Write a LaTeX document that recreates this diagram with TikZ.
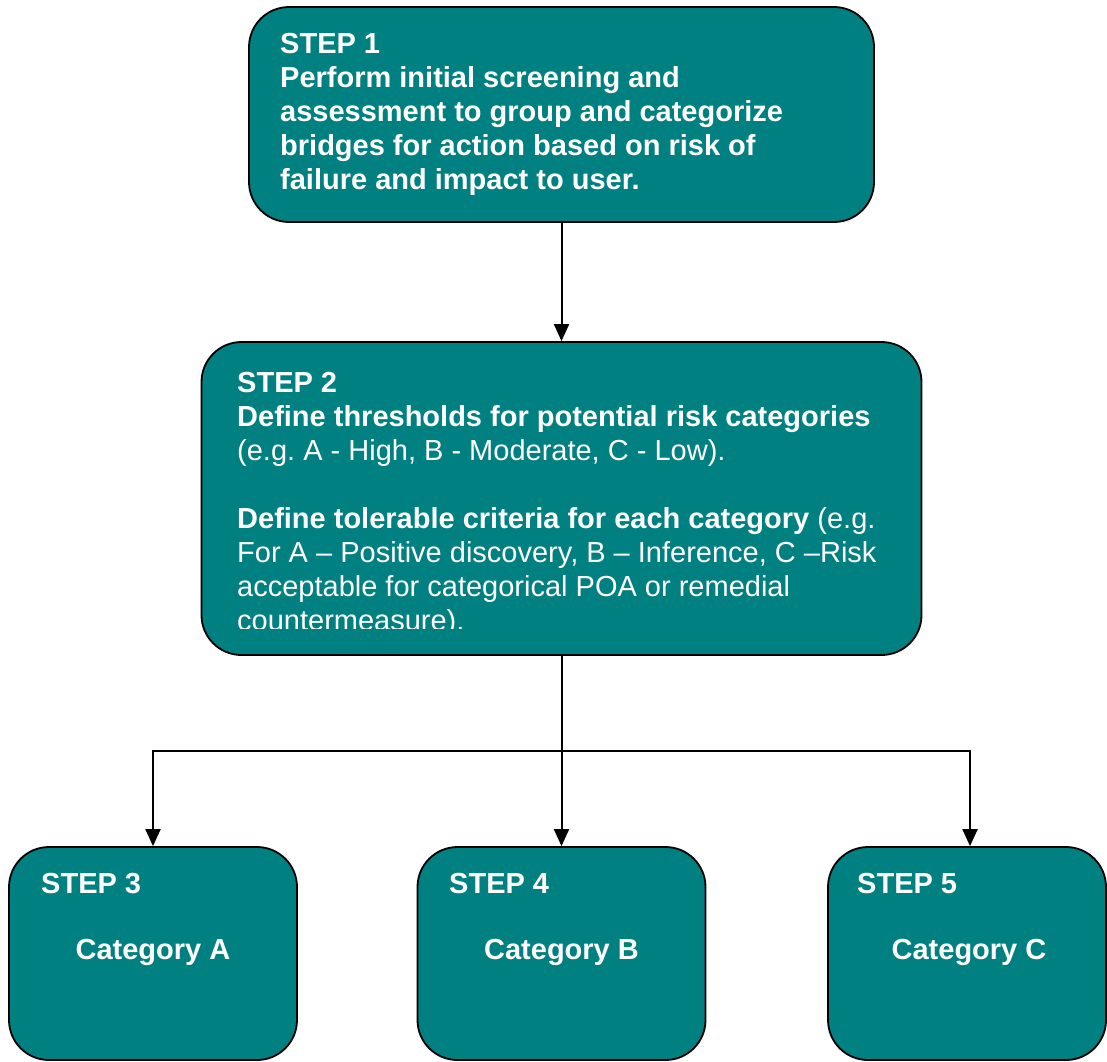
\documentclass[tikz,border=0pt]{standalone}
\usepackage{fontspec}
\setmainfont{Liberation Sans}
\usetikzlibrary{arrows.meta,positioning,scopes}
\definecolor{stepTeal}{RGB}{0,128,128}

\begin{document}
\begin{tikzpicture}[x=1pt,y=-1pt]
    \clip (0,0) rectangle (1107,1061);
    {[every node/.style={draw, line width=1.8pt, fill=stepTeal, rounded corners=40pt}]
    \node (S1) at (561.5,114.5) [minimum width=625pt, minimum height=215pt] {};
    \node (S2) at (561.5,498.5) [minimum width=720pt, minimum height=313pt] {};
    \node (S3) at (153,953.5) [minimum width=288pt, minimum height=213pt] {};
    \node (S4) at (561.5,953.5) [minimum width=288pt, minimum height=213pt] {};
    \node (S5) at (967,953.5) [minimum width=278pt, minimum height=213pt] {};
    }
    {[every node/.style={text=white, inner sep=0pt, align=left, font=\fontsize{29}{34}\selectfont}]
    \node[anchor=west] (S1-text) at (280,114) {\textbf{STEP 1}\\
      \textbf{Perform initial screening and}\\
      \textbf{assessment to group and categorize}\\
      \textbf{bridges for action based on risk of}\\
      \textbf{failure and impact to user.}};
    \begin{scope}
      \clip (201,342) rectangle (921,628);
      \node[anchor=west] (S2-text) at (237,504.5) {\textbf{STEP 2}\\
        \textbf{Define thresholds for potential risk categories}\\
        (e.g.\ A - High, B - Moderate, C - Low).\\[34pt]
        \textbf{Define tolerable criteria for each category} (e.g.\\
        For A -- Positive discovery, B -- Inference, C --Risk\\
        acceptable for categorical POA or remedial\\
        countermeasure).};
    \end{scope}
    \node[anchor=base west] (S3-step) at (41,893) {\textbf{STEP 3}};
    \node[anchor=base] (S3-cat) at (153,959) {\textbf{Category A}};
    \node[anchor=base west] (S4-step) at (449,893) {\textbf{STEP 4}};
    \node[anchor=base] (S4-cat) at (561.5,959) {\textbf{Category B}};
    \node[anchor=base west] (S5-step) at (857,893) {\textbf{STEP 5}};
    \node[anchor=base] (S5-cat) at (969,959) {\textbf{Category C}};
    }
    \coordinate (split) at (561.5,751);
    {[line width=2pt, -{Triangle[length=17pt,width=15pt]}]
      \draw (S1) -- (S2);
      \draw (S2) -- (S4);
      \draw (split) -| (S3.north);
      \draw (split) -| ([xshift=3pt]S5.north);
    }
\end{tikzpicture}
\end{document}
